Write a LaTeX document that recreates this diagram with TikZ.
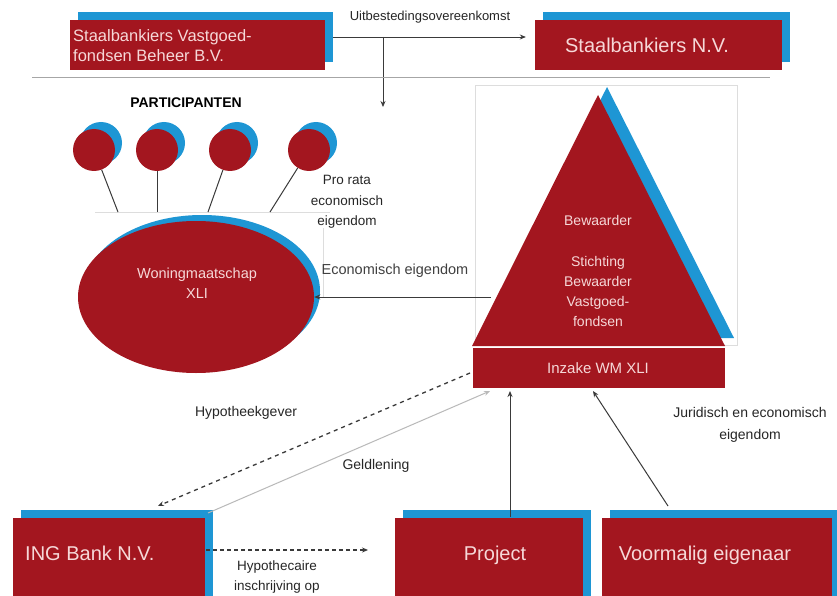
\documentclass[tikz,border=0pt]{standalone}
\usepackage{fontspec}
\setmainfont{Liberation Sans}
\usetikzlibrary{shapes.geometric,shadows,arrows.meta}
\definecolor{redc}{HTML}{A3161F}
\definecolor{bluec}{HTML}{1E96D4}
\definecolor{txtc}{HTML}{F6D8D8}
\definecolor{linec}{HTML}{3A3A3A}
\definecolor{faint}{HTML}{DDDDDD}
\begin{document}
\begin{tikzpicture}[x=1pt,y=-1pt,
  bshadow/.style={copy shadow={shadow xshift=#1,shadow yshift=#1,fill=bluec,draw=none}},
  plainbox/.style={rectangle,fill=redc,draw=none,inner sep=0pt},
  redbox/.style={plainbox,bshadow=8pt},
  redcirc/.style={circle,fill=redc,draw=none,inner sep=0pt,minimum size=42pt,bshadow=7pt},
  boxtext/.style={text=txtc,font=\fontsize{20}{22}\selectfont,inner sep=0pt},
  intext/.style={text=txtc,font=\fontsize{14}{20}\selectfont,align=center,inner sep=0pt},
  lbl/.style={text=black!85,font=\fontsize{14}{20}\selectfont,align=center,inner sep=0pt},
  conn/.style={draw=linec,line width=1pt},
  tip/.style={-{Stealth[length=6pt,width=5pt]}},
]
\clip (0,0) rectangle (837,596);
\fill[white] (0,0) rectangle (837,596);

% faint guide lines
\draw[faint,line width=0.8pt] (475,85) rectangle (737,345);
\draw[faint,line width=0.8pt] (95,212) -- (330,212);
\draw[faint,line width=0.8pt] (323,228) -- (323,297);

% top boxes
\node[redbox,minimum width=255pt,minimum height=50pt] (beheer) at (197.5,45) {};
\node[boxtext,font=\fontsize{16.5}{20}\selectfont,align=left,anchor=west] (beheertxt) at (73,46) {Staalbankiers Vastgoed-\\fondsen Beheer B.V.};
\node[redbox,minimum width=247pt,minimum height=50pt] (sbnv) at (658.5,45) {};
\node[boxtext] (sbnvtxt) at (647,45) {Staalbankiers N.V.};

\coordinate (split) at (383,37);
\coordinate (partin) at (383,107);
\draw[conn,line width=0.8pt,tip] ([yshift=8pt,xshift=8pt]beheer.east) -- ([yshift=8pt,xshift=-9pt]sbnv.west);
\draw[conn,line width=0.8pt,tip] (split) -- (partin);
\node[lbl,font=\fontsize{13}{16}\selectfont] (uitb) at (430,17) {Uitbestedingsovereenkomst};

% separator
\draw[gray!70,line width=1pt] (32,78) -- (770,78);

% participants
\node[font=\bfseries\fontsize{14}{16}\selectfont,inner sep=0pt] (part) at (186,103) {PARTICIPANTEN};
\node[redcirc] (p1) at (94,150) {};
\node[redcirc] (p2) at (157,150) {};
\node[redcirc] (p3) at (230,150) {};
\node[redcirc] (p4) at (309,150) {};
\coordinate (e1) at (118,212);
\coordinate (e2) at (157,212);
\coordinate (e3) at (208,212);
\coordinate (e4) at (270,212);
\draw[conn] (p1) -- (e1);
\draw[conn] (p2) -- (e2);
\draw[conn] (p3) -- (e3);
\draw[conn] (p4) -- (e4);
\node[lbl,font=\fontsize{13.5}{20.5}\selectfont] (prorata) at (347,202) {Pro rata\\economisch\\eigendom};

% ellipse
\node[ellipse,fill=redc,draw=none,minimum width=236pt,minimum height=152pt,inner sep=0pt,bshadow=6pt] (wm) at (196,297) {};
\node[intext,font=\fontsize{14.5}{20}\selectfont] (wmtxt) at (197,283) {Woningmaatschap\\XLI};

% triangle
\coordinate (tA) at (598,95);
\coordinate (tL) at (472,346);
\coordinate (tR) at (725,346);
\fill[bluec] (607,87) -- (734,338) -- (481,338) -- cycle;
\fill[redc] (tA) -- (tR) -- (tL) -- cycle;
\node[plainbox,minimum width=253pt,minimum height=41pt,draw=white,line width=0.8pt] (inzake) at (598.5,367.5) {};
\node[intext,font=\fontsize{15}{20}\selectfont] (inzaketxt) at (598,368) {Inzake WM XLI};
\node[intext] (bew) at (598,220) {Bewaarder};
\node[intext] (stichting) at (598,291) {Stichting\\Bewaarder\\Vastgoed-\\fondsen};
\coordinate (trileft) at (491,297);

\draw[conn,tip] (trileft) -- (wm.east);
\node[lbl,font=\fontsize{14.5}{16}\selectfont,text=black!75] (econ) at (395,271) {Economisch eigendom};

% bottom boxes
\node[redbox,minimum width=192pt,minimum height=92pt] (ing) at (109,564) {};
\node[boxtext,anchor=west] (ingtxt) at (25,553) {ING Bank N.V.};
\node[redbox,minimum width=188pt,minimum height=92pt] (proj) at (489,564) {};
\node[boxtext] (projtxt) at (495,555) {Project};
\node[redbox,minimum width=230pt,minimum height=92pt] (voorm) at (717,564) {};
\node[boxtext] (voormtxt) at (705,555) {Voormalig eigenaar};

% lower connectors
\coordinate (hypstart) at (470,373);
\coordinate (ingtop1) at (158,506);
\coordinate (ingtop2) at (208,513);
\coordinate (geldend) at (490,391);
\coordinate (projend) at (510,391);
\coordinate (voormend) at (593,391);
\coordinate (projtop) at (510,517);
\coordinate (voormtop) at (668,506);
\draw[conn,line width=1.3pt,dash pattern=on 4pt off 4pt,tip] (hypstart) -- (ingtop1);
\draw[gray!55,line width=1pt,tip] (ingtop2) -- (geldend);
\draw[conn,tip] (projtop) -- (projend);
\draw[conn,tip] (voormtop) -- (voormend);
\coordinate (hyp2start) at (206,550);
\coordinate (hyp2end) at (368,550);
\draw[conn,line width=1.3pt,dash pattern=on 3.5pt off 3.5pt,tip] (hyp2start) -- (hyp2end);

\node[lbl] (hypgever) at (246,413) {Hypotheekgever};
\node[lbl] (geld) at (376,466) {Geldlening};
\node[lbl,font=\fontsize{14}{22}\selectfont] (jur) at (750,425) {Juridisch en economisch\\eigendom};
\node[lbl,font=\fontsize{13.5}{20}\selectfont] (hypins) at (277,577) {Hypothecaire\\inschrijving op};
\end{tikzpicture}
\end{document}
